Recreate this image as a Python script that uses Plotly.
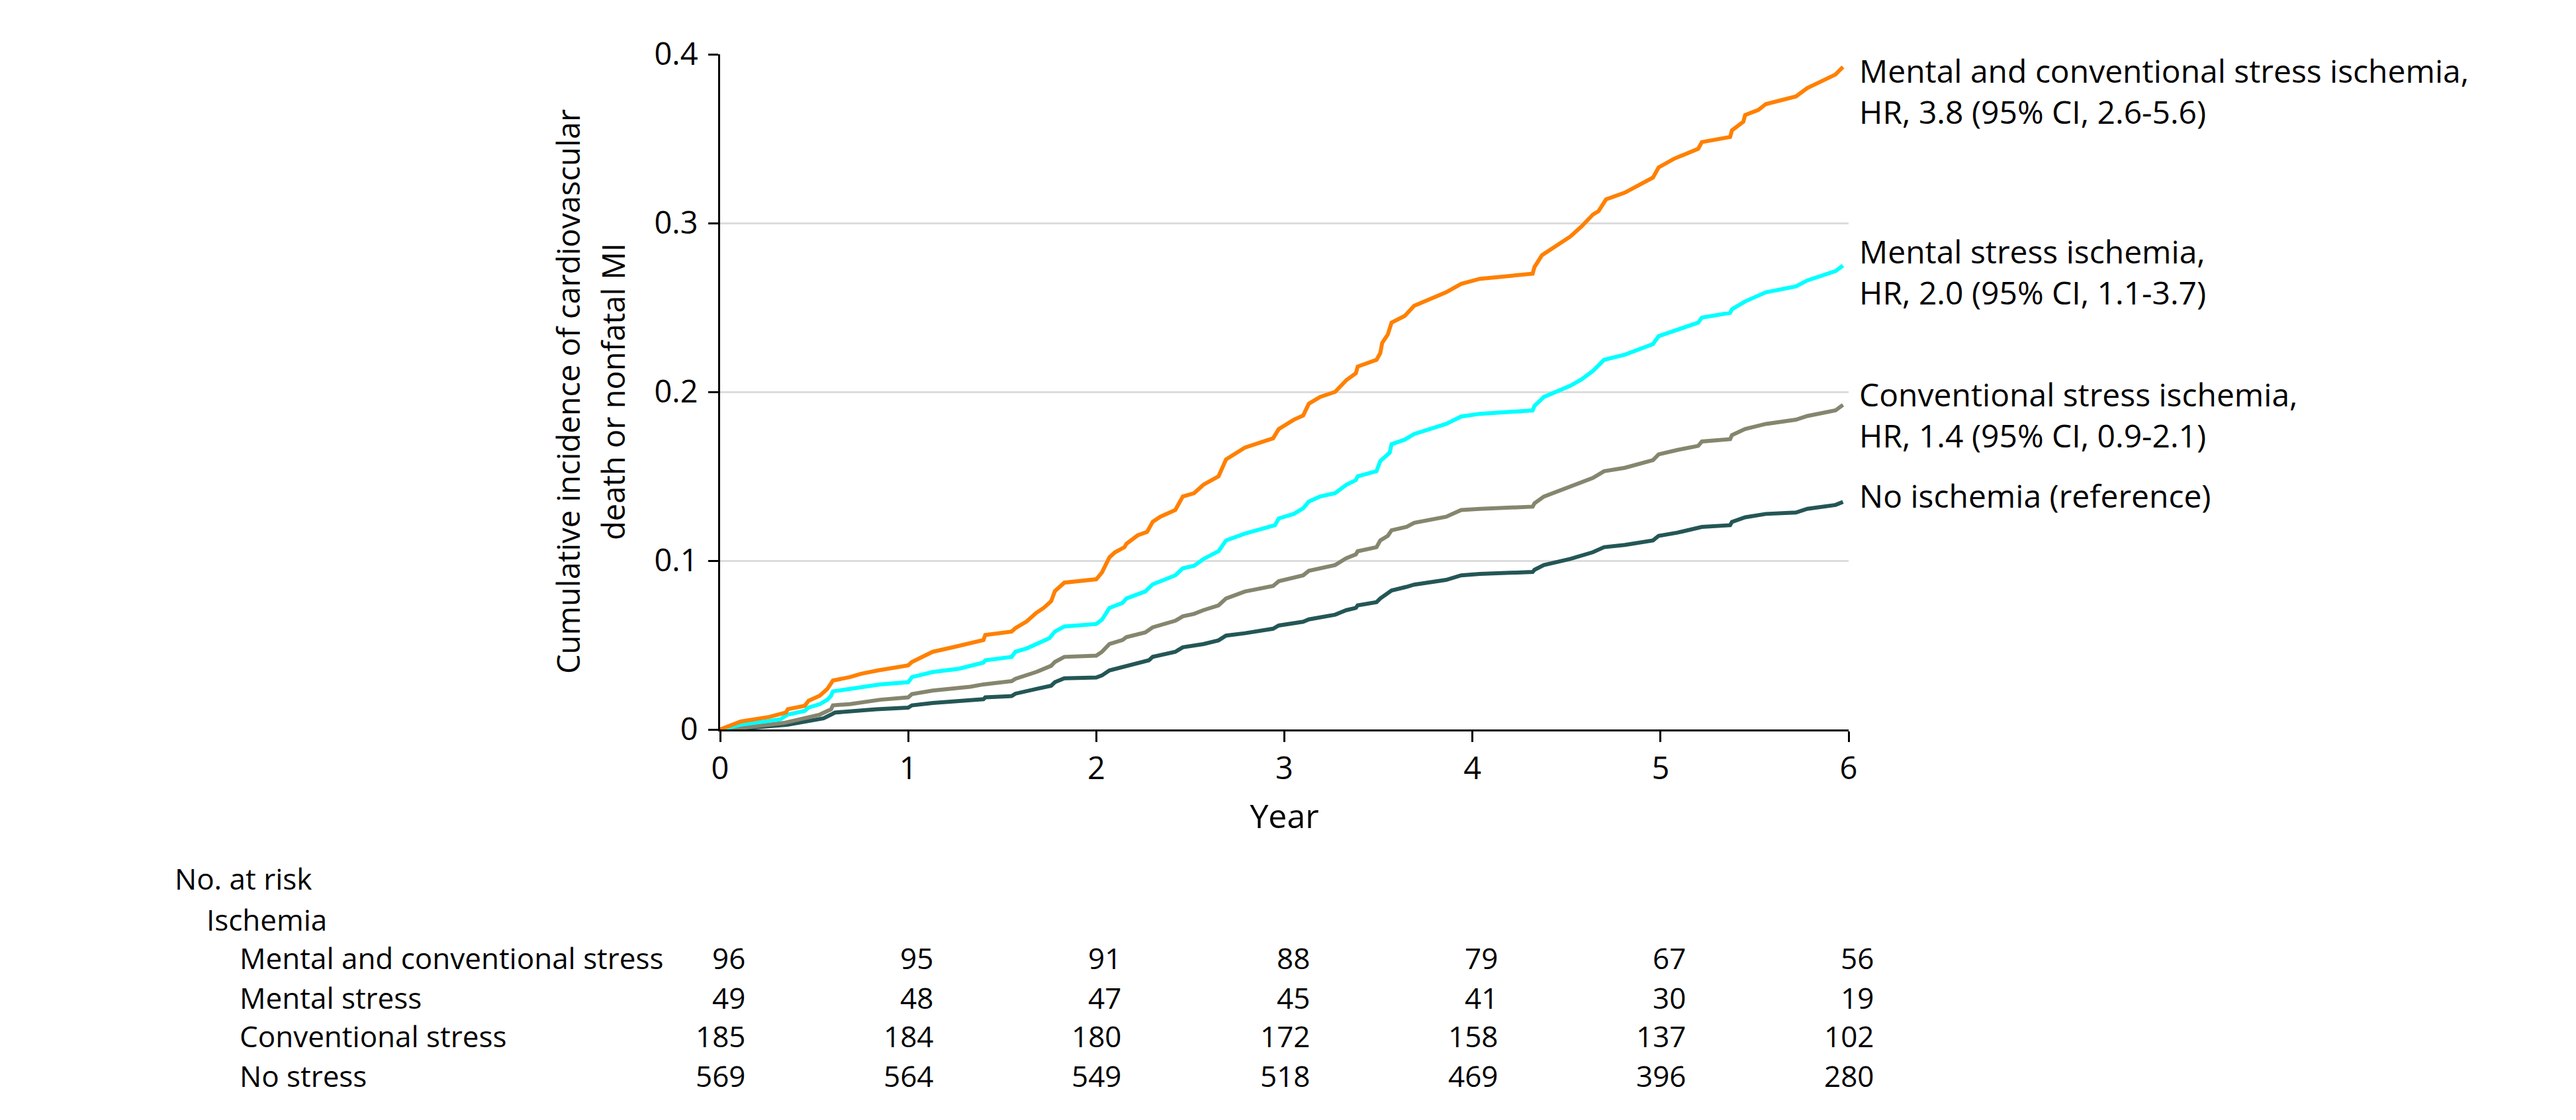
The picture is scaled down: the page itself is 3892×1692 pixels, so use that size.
import plotly.graph_objects as go

# ---------------- data ----------------
years_both = [0, 0.11, 0.26, 0.35, 0.36, 0.45, 0.47, 0.53, 0.57, 0.59, 0.60, 0.69, 0.75, 0.84, 1.00, 1.02,
              1.07, 1.13, 1.25, 1.40, 1.41, 1.55, 1.57, 1.63, 1.68, 1.72, 1.76, 1.78, 1.83, 2.00, 2.03, 2.07,
              2.10, 2.15, 2.16, 2.22, 2.27, 2.30, 2.34, 2.42, 2.46, 2.52, 2.57, 2.65, 2.69, 2.79, 2.94, 2.97,
              3.05, 3.10, 3.13, 3.19, 3.27, 3.33, 3.38, 3.39, 3.49, 3.51, 3.52, 3.55, 3.57, 3.64, 3.69, 3.86,
              3.94, 4.04, 4.32, 4.33, 4.37, 4.52, 4.58, 4.64, 4.67, 4.71, 4.81, 4.96, 4.99, 5.07, 5.20, 5.22,
              5.37, 5.38, 5.44, 5.45, 5.52, 5.56, 5.72, 5.78, 5.93, 5.97]
inc_both = [0, 0.0047, 0.0074, 0.010, 0.012, 0.014, 0.017, 0.020, 0.024, 0.028, 0.029, 0.031, 0.033, 0.035,
            0.038, 0.040, 0.043, 0.046, 0.049, 0.053, 0.056, 0.058, 0.060, 0.064, 0.069, 0.072, 0.076, 0.082,
            0.087, 0.089, 0.093, 0.102, 0.105, 0.108, 0.110, 0.115, 0.117, 0.123, 0.126, 0.130, 0.138, 0.140,
            0.145, 0.150, 0.160, 0.167, 0.1725, 0.178, 0.1835, 0.186, 0.193, 0.197, 0.200, 0.207, 0.211,
            0.215, 0.219, 0.223, 0.229, 0.234, 0.241, 0.245, 0.251, 0.259, 0.264, 0.267, 0.270, 0.274, 0.281,
            0.292, 0.298, 0.305, 0.307, 0.314, 0.318, 0.327, 0.333, 0.338, 0.344, 0.348, 0.351, 0.355, 0.360,
            0.364, 0.367, 0.3705, 0.375, 0.380, 0.388, 0.3925]

years_mental = [0, 0.11, 0.32, 0.36, 0.45, 0.47, 0.53, 0.57, 0.59, 0.60, 0.69, 0.85, 1.00, 1.02, 1.13, 1.27,
                1.40, 1.41, 1.55, 1.57, 1.63, 1.68, 1.75, 1.78, 1.83, 2.00, 2.03, 2.07, 2.14, 2.16, 2.26, 2.30,
                2.42, 2.46, 2.52, 2.57, 2.65, 2.69, 2.79, 2.95, 2.97, 3.05, 3.10, 3.13, 3.19, 3.27, 3.33, 3.38,
                3.39, 3.49, 3.51, 3.56, 3.57, 3.64, 3.69, 3.86, 3.94, 4.04, 4.32, 4.33, 4.38, 4.52, 4.58, 4.64,
                4.70, 4.81, 4.96, 4.99, 5.07, 5.20, 5.22, 5.37, 5.38, 5.45, 5.56, 5.72, 5.78, 5.93, 5.97]
inc_mental = [0, 0.0028, 0.006, 0.0088, 0.011, 0.013, 0.015, 0.0176, 0.020, 0.0226, 0.024, 0.0267, 0.028,
              0.031, 0.034, 0.036, 0.0396, 0.041, 0.043, 0.046, 0.048, 0.0506, 0.054, 0.058, 0.061, 0.0625,
              0.065, 0.072, 0.075, 0.0776, 0.0817, 0.086, 0.0913, 0.0955, 0.097, 0.101, 0.1056, 0.112, 0.116,
              0.121, 0.125, 0.1277, 0.131, 0.135, 0.138, 0.140, 0.145, 0.1477, 0.150, 0.153, 0.159, 0.164,
              0.169, 0.1717, 0.175, 0.181, 0.1854, 0.187, 0.189, 0.1917, 0.197, 0.2036, 0.2074, 0.2124, 0.219,
              0.222, 0.2283, 0.233, 0.236, 0.241, 0.244, 0.2468, 0.249, 0.2536, 0.259, 0.2625, 0.266, 0.2715,
              0.2748]

years_conv = [0, 0.12, 0.34, 0.45, 0.53, 0.59, 0.60, 0.69, 0.85, 1.00, 1.02, 1.13, 1.33, 1.40, 1.55, 1.57,
              1.68, 1.76, 1.78, 1.83, 2.00, 2.03, 2.07, 2.14, 2.16, 2.26, 2.30, 2.42, 2.46, 2.52, 2.57, 2.65,
              2.69, 2.79, 2.94, 2.97, 3.10, 3.13, 3.27, 3.33, 3.38, 3.39, 3.49, 3.51, 3.55, 3.57, 3.65, 3.69,
              3.86, 3.94, 4.04, 4.32, 4.33, 4.38, 4.52, 4.58, 4.64, 4.70, 4.81, 4.96, 4.99, 5.09, 5.20, 5.22,
              5.37, 5.38, 5.45, 5.56, 5.72, 5.78, 5.93, 5.97]
inc_conv = [0, 0.001, 0.0039, 0.0066, 0.0088, 0.012, 0.0143, 0.015, 0.0176, 0.019, 0.021, 0.023, 0.0253,
            0.0267, 0.0286, 0.030, 0.034, 0.0377, 0.040, 0.043, 0.0437, 0.046, 0.0506, 0.053, 0.0547, 0.0575,
            0.0605, 0.0644, 0.067, 0.0685, 0.0707, 0.0735, 0.0776, 0.0817, 0.085, 0.0878, 0.0913, 0.094,
            0.0974, 0.1015, 0.1037, 0.1056, 0.108, 0.112, 0.1147, 0.118, 0.120, 0.1224, 0.126, 0.130, 0.1307,
            0.132, 0.134, 0.138, 0.1436, 0.146, 0.149, 0.153, 0.155, 0.1596, 0.163, 0.1656, 0.168, 0.1706,
            0.172, 0.1744, 0.178, 0.181, 0.1835, 0.1857, 0.189, 0.1923]

years_none = [0, 0.12, 0.36, 0.46, 0.55, 0.59, 0.61, 0.83, 1.00, 1.02, 1.13, 1.40, 1.41, 1.55, 1.57, 1.68,
              1.76, 1.78, 1.83, 2.00, 2.03, 2.07, 2.14, 2.16, 2.28, 2.30, 2.42, 2.46, 2.57, 2.65, 2.69, 2.79,
              2.94, 2.97, 3.10, 3.13, 3.27, 3.33, 3.38, 3.39, 3.49, 3.51, 3.57, 3.65, 3.69, 3.86, 3.94, 4.04,
              4.32, 4.33, 4.38, 4.52, 4.58, 4.64, 4.70, 4.81, 4.96, 4.99, 5.09, 5.20, 5.22, 5.37, 5.38, 5.45,
              5.56, 5.72, 5.78, 5.93, 5.97]
inc_none = [0, 0.0006, 0.0028, 0.0047, 0.0066, 0.0088, 0.010, 0.012, 0.0129, 0.0143, 0.0157, 0.0179, 0.019,
            0.0198, 0.0212, 0.024, 0.0259, 0.028, 0.0303, 0.0308, 0.032, 0.035, 0.0369, 0.038, 0.041, 0.043,
            0.046, 0.0487, 0.0506, 0.0528, 0.0556, 0.057, 0.0597, 0.0616, 0.0638, 0.0652, 0.068, 0.0707,
            0.072, 0.0735, 0.0754, 0.0776, 0.0823, 0.0845, 0.0858, 0.0886, 0.0913, 0.0922, 0.0933, 0.0946,
            0.0974, 0.101, 0.103, 0.105, 0.108, 0.1093, 0.112, 0.1147, 0.1166, 0.119, 0.120, 0.121, 0.123,
            0.1257, 0.1277, 0.1285, 0.1307, 0.133, 0.1348]

curve_labels = [
    "Mental and conventional stress ischemia,<br>HR, 3.8 (95% CI, 2.6-5.6)",
    "Mental stress ischemia,<br>HR, 2.0 (95% CI, 1.1-3.7)",
    "Conventional stress ischemia,<br>HR, 1.4 (95% CI, 0.9-2.1)",
    "No ischemia (reference)",
]
# label tops expressed on the incidence scale
curve_label_y = [0.4038, 0.2970, 0.2122, 0.1522]

risk_years = [0, 1, 2, 3, 4, 5, 6]
risk_groups = ["Mental and conventional stress", "Mental stress", "Conventional stress", "No stress"]
risk_both = [96, 95, 91, 88, 79, 67, 56]
risk_mental = [49, 48, 47, 45, 41, 30, 19]
risk_conv = [185, 184, 180, 172, 158, 137, 102]
risk_none = [569, 564, 549, 518, 469, 396, 280]

y_ticks = [0, 0.1, 0.2, 0.3, 0.4]
y_tick_text = ["0", "0.1", "0.2", "0.3", "0.4"]
x_ticks = [0, 1, 2, 3, 4, 5, 6]

# ---------------- styling ----------------
FONT = "Open Sans"
colors = {"both": "#FF8000", "mental": "#00FFFF", "conv": "#86866F", "none": "#245656"}
Y_MAX = 0.4

fig = go.Figure()
series = [
    (years_none, inc_none, colors["none"]),
    (years_conv, inc_conv, colors["conv"]),
    (years_mental, inc_mental, colors["mental"]),
    (years_both, inc_both, colors["both"]),
]
for xs, ys, c in series:
    fig.add_trace(go.Scatter(x=xs, y=ys, mode="lines", line=dict(color=c, width=6),
                             showlegend=False, hoverinfo="skip"))

W, H = 3892, 1692
L, R, T, B = 1080, 3892 - 2785, 74, 1692 - 1094
plot_h = H - T - B

fig.update_layout(
    width=W, height=H,
    margin=dict(l=L, r=R, t=T, b=B, pad=0),
    paper_bgcolor="white", plot_bgcolor="white",
    font=dict(family=FONT, size=46, color="black"),
    xaxis=dict(range=[0, 6], tickvals=x_ticks, ticks="outside", ticklen=16, tickwidth=3,
               tickcolor="black", showline=True, linecolor="black", linewidth=3,
               showgrid=False, zeroline=False, tickfont=dict(size=47),
               title=dict(text="Year", font=dict(size=50), standoff=26)),
    yaxis=dict(range=[0, Y_MAX], tickvals=y_ticks, ticktext=y_tick_text, ticks="outside", ticklen=15,
               tickwidth=3, tickcolor="black", showline=True, linecolor="black", linewidth=3,
               showgrid=True, gridcolor="#DCDCDC", gridwidth=3, zeroline=False,
               tickfont=dict(size=47), ticklabelstandoff=6),
)

def px_to_paper_x(px):
    return (px - L) / (W - L - R)

def px_to_paper_y(py):
    return (H - B - py) / plot_h

# y-axis title (two lines)
for txt, xp in [("Cumulative incidence of cardiovascular", 850), ("death or nonfatal MI", 918)]:
    fig.add_annotation(text=txt, xref="paper", yref="paper", x=px_to_paper_x(xp), y=0.5,
                       xanchor="center", yanchor="middle", textangle=-90, showarrow=False,
                       font=dict(size=47, family=FONT))

# curve labels (paper refs so labels slightly above the axis top are not hidden)
for txt, yv in zip(curve_labels, curve_label_y):
    fig.add_annotation(text=txt, xref="x", yref="paper", x=6, y=yv / Y_MAX, xanchor="left",
                       yanchor="top", xshift=14, showarrow=False, align="left",
                       font=dict(size=48, family=FONT))

# number at risk table
row_px = [1319, 1381, 1439, 1499, 1557, 1617]
fig.add_annotation(text="No. at risk", xref="paper", yref="paper", x=px_to_paper_x(254),
                   y=px_to_paper_y(row_px[0]), xanchor="left", yanchor="middle", showarrow=False,
                   font=dict(size=44, family=FONT))
fig.add_annotation(text="Ischemia", xref="paper", yref="paper", x=px_to_paper_x(302),
                   y=px_to_paper_y(row_px[1]), xanchor="left", yanchor="middle", showarrow=False,
                   font=dict(size=44, family=FONT))
for i, (grp, vals) in enumerate(zip(risk_groups, [risk_both, risk_mental, risk_conv, risk_none])):
    yp = px_to_paper_y(row_px[i + 2])
    fig.add_annotation(text=grp, xref="paper", yref="paper", x=px_to_paper_x(352), y=yp,
                       xanchor="left", yanchor="middle", showarrow=False,
                       font=dict(size=44, family=FONT))
    for yr, v in zip(risk_years, vals):
        fig.add_annotation(text=str(v), xref="x", yref="paper", x=yr, y=yp, xanchor="right",
                           yanchor="middle", xshift=40, showarrow=False,
                           font=dict(size=44, family=FONT))

fig.write_html("out.html")
